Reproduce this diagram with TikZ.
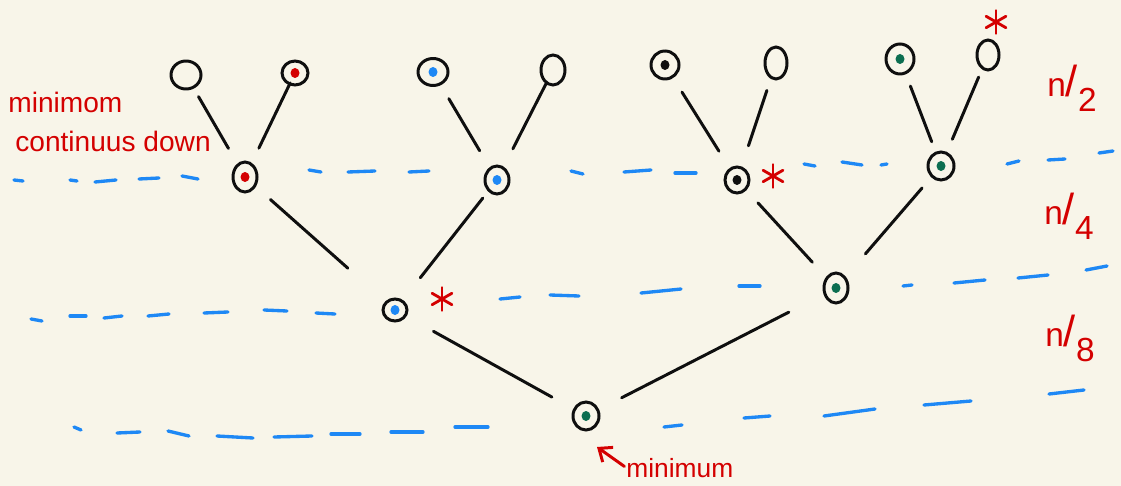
\documentclass[tikz,border=0pt]{standalone}
\usepackage{fontspec}
\setmainfont{Liberation Sans}
\usetikzlibrary{shapes.geometric,arrows.meta}
\definecolor{bg}{RGB}{248,245,233}
\definecolor{inkblue}{RGB}{30,136,245}
\definecolor{inkred}{RGB}{212,0,0}
\definecolor{inkgreen}{RGB}{12,110,80}
\definecolor{ink}{RGB}{15,15,15}
\begin{document}
\begin{tikzpicture}[x=0.02cm,y=-0.02cm,
  nd/.style={ellipse, draw=ink, line width=1.7pt, minimum width=0.52cm, minimum height=0.56cm, inner sep=0pt},
  dot/.style={path picture={\fill[#1] (path picture bounding box.center) ellipse (0.09cm and 0.1cm);}},
  edge/.style={draw=ink, line width=1.7pt, line cap=round},
  dashseg/.style={draw=inkblue, line width=1.9pt, line cap=round},
  lbl/.style={text=inkred, font=\fontsize{16}{18}\selectfont, inner sep=0pt},
  frac/.style={text=inkred, font=\fontsize{19}{21}\selectfont, inner sep=0pt},
  redast/.pic={\foreach \a in {90,30,150} \draw[inkred, line width=1.6pt, line cap=round] (\a:0.23cm) -- (\a+180:0.23cm);}
]
\fill[bg] (0,0) rectangle (1121,486);
\useasboundingbox (0,0) rectangle (1121,486);

% blue dashed level lines
\foreach \xa/\ya/\xb/\yb in {14/180/23/181, 70/180/77/181, 95/182/116/180, 139/179/159/178, 182/176/198/179,
  309/170/321/172, 348/172/375/171, 409/172/429/171, 571/171/583/174, 624/172/651/170, 675/173/696/173,
  804/164/815/166, 842/162/862/165, 881/165/887/164, 1007/164/1019/161, 1048/160/1065/159, 1099/153/1113/151}
  \draw[dashseg] (\xa,\ya) -- (\xb,\yb);
\foreach \xa/\ya/\xb/\yb in {31/319/42/321, 70/316/86/316, 104/318/122/316, 148/316/169/314, 204/313/228/312,
  264/310/287/311, 316/313/335/314, 500/299/520/297, 550/295/579/296, 641/293/681/289, 739/286/760/286,
  903/286/912/285, 954/283/985/280, 1018/278/1048/275, 1086/270/1107/266}
  \draw[dashseg] (\xa,\ya) -- (\xb,\yb);
\foreach \xa/\ya/\xb/\yb in {74/427/81/430, 117/433/140/432, 168/431/189/436, 217/436/253/438, 274/437/312/436,
  331/434/360/434, 391/432/423/432, 455/427/488/427, 664/427/682/425, 744/418/770/416, 824/416/875/409,
  924/405/971/401, 1049/394/1084/390}
  \draw[dashseg] (\xa,\ya) -- (\xb,\yb);

% nodes
\node[nd, minimum width=0.60cm, minimum height=0.56cm] (l1) at (186,75) {};
\node[nd, dot=inkred, minimum width=0.52cm, minimum height=0.48cm] (l2) at (295,73) {};
\node[nd, dot=inkblue, minimum width=0.60cm, minimum height=0.54cm] (l3) at (433,72) {};
\node[nd, minimum width=0.48cm, minimum height=0.60cm] (l4) at (553,70) {};
\node[nd, dot=ink, minimum width=0.56cm, minimum height=0.56cm] (l5) at (665,65) {};
\node[nd, minimum width=0.44cm, minimum height=0.64cm] (l6) at (776,63) {};
\node[nd, dot=inkgreen, minimum width=0.56cm, minimum height=0.60cm] (l7) at (900,59) {};
\node[nd, minimum width=0.44cm, minimum height=0.60cm] (l8) at (988,55) {};
\node[nd, dot=inkred, minimum width=0.48cm, minimum height=0.60cm] (m1) at (245,177) {};
\node[nd, dot=inkblue, minimum width=0.48cm, minimum height=0.56cm] (m2) at (497,180) {};
\node[nd, dot=ink, minimum width=0.48cm, minimum height=0.52cm] (m3) at (737,180) {};
\node[nd, dot=inkgreen, minimum width=0.52cm, minimum height=0.56cm] (m4) at (941,166) {};
\node[nd, dot=inkblue, minimum width=0.48cm, minimum height=0.44cm] (n1) at (395,310) {};
\node[nd, dot=inkgreen, minimum width=0.48cm, minimum height=0.60cm] (n2) at (836,288) {};
\node[nd, dot=inkgreen, minimum width=0.52cm, minimum height=0.56cm] (r) at (586,416) {};

% tree edges
\draw[edge, shorten <=0.50cm, shorten >=0.66cm] (l1.center) -- (m1.center);
\draw[edge, shorten <=0.22cm, shorten >=0.64cm] (l2.center) -- (m1.center);
\draw[edge, shorten <=0.62cm, shorten >=0.68cm] (l3.center) -- (m2.center);
\draw[edge, shorten <=0.30cm, shorten >=0.70cm] (l4.center) -- (m2.center);
\draw[edge, shorten <=0.64cm, shorten >=0.68cm] (l5.center) -- (m3.center);
\draw[edge, shorten <=0.58cm, shorten >=0.72cm] (l6.center) -- (m3.center);
\draw[edge, shorten <=0.58cm, shorten >=0.52cm] (l7.center) -- (m4.center);
\draw[edge, shorten <=0.48cm, shorten >=0.58cm] (l8.center) -- (m4.center);
\draw[edge, shorten <=0.68cm, shorten >=1.26cm] (m1.center) -- (n1.center);
\draw[edge, shorten <=0.46cm, shorten >=0.82cm] (m2.center) -- (n1.center);
\draw[edge, shorten <=0.62cm, shorten >=0.70cm] (m3.center) -- (n2.center);
\draw[edge, shorten <=0.58cm, shorten >=0.90cm] (m4.center) -- (n2.center);
\draw[edge, shorten <=0.88cm, shorten >=0.78cm] (n1.center) -- (r.center);
\draw[edge, shorten <=1.06cm, shorten >=0.80cm] (n2.center) -- (r.center);

% stars
\pic at (996,22) {redast};
\pic at (773,176) {redast};
\pic at (442,299) {redast};

% labels
\node[lbl, anchor=base west] (t1) at (8,113) {minimom};
\node[lbl, anchor=base west] (t2) at (15,152) {continuus down};
\node[lbl, anchor=base west, font=\fontsize{15}{16}\selectfont] (minlbl) at (626,477) {minimum};
\coordinate (mintip) at (597,447);
\draw[inkred, line width=1.7pt, line cap=round, shorten <=0.04cm, -{Straight Barb[length=0.22cm,width=0.36cm]}] (minlbl.west) -- (mintip);

\node[frac] (h1) at (1072,88) {n\scalebox{1.3}{/}\raisebox{-0.45em}{2}};
\node[frac] (h2) at (1069,216) {n\scalebox{1.3}{/}\raisebox{-0.45em}{4}};
\node[frac] (h3) at (1070,338) {n\scalebox{1.3}{/}\raisebox{-0.45em}{8}};
\end{tikzpicture}
\end{document}
